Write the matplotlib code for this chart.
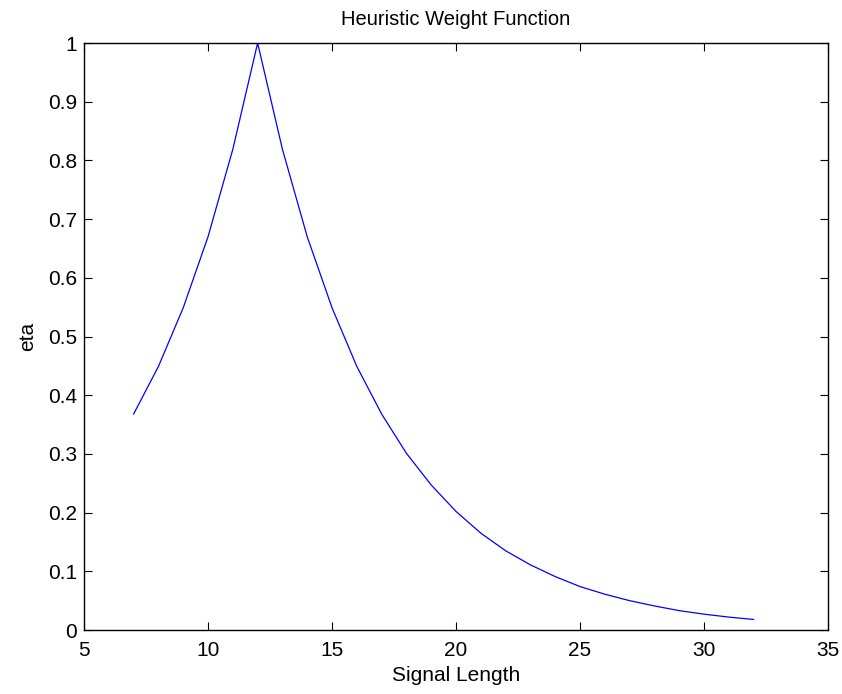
import matplotlib
matplotlib.use('Agg')
import matplotlib.pyplot as plt

#%% Data
signal_length = [7, 8, 9, 10, 11, 12, 13, 14, 15, 16, 17, 18, 19, 20,
                 21, 22, 23, 24, 25, 26, 27, 28, 29, 30, 31, 32]
eta = [0.368, 0.449, 0.549, 0.670, 0.819, 1.000, 0.819, 0.670, 0.549,
       0.449, 0.368, 0.301, 0.247, 0.202, 0.165, 0.135, 0.111, 0.091,
       0.074, 0.061, 0.050, 0.041, 0.033, 0.027, 0.022, 0.018]
yticklabels = ['0', '0.1', '0.2', '0.3', '0.4', '0.5', '0.6', '0.7', '0.8', '0.9', '1']

#%% Plot
plt.rcParams['font.family'] = ['Liberation Sans', 'DejaVu Sans']
fig = plt.figure(figsize=(8.42, 6.94), dpi=100)
ax = fig.add_axes([0.0998, 0.0922, 0.8836, 0.8458])
ax.plot(signal_length, eta, color='#0000ff', linewidth=0.9)

ax.set_xlim(5, 35)
ax.set_ylim(0, 1)
ax.set_xticks(range(5, 36, 5))
ax.set_yticks([i / 10 for i in range(11)])
ax.set_yticklabels(yticklabels)
ax.tick_params(direction='in', top=True, right=True, labelsize=15, length=6, width=0.8)
ax.tick_params(axis='x', pad=8)
ax.tick_params(axis='y', pad=5)
for s in ax.spines.values():
    s.set_linewidth(1.0)

ax.set_title('Heuristic Weight Function', fontsize=14.5, pad=13)
ax.set_xlabel('Signal Length', fontsize=15, labelpad=4)
ax.set_ylabel('eta', fontsize=15, labelpad=8)

fig.savefig('out.png', dpi=100)
